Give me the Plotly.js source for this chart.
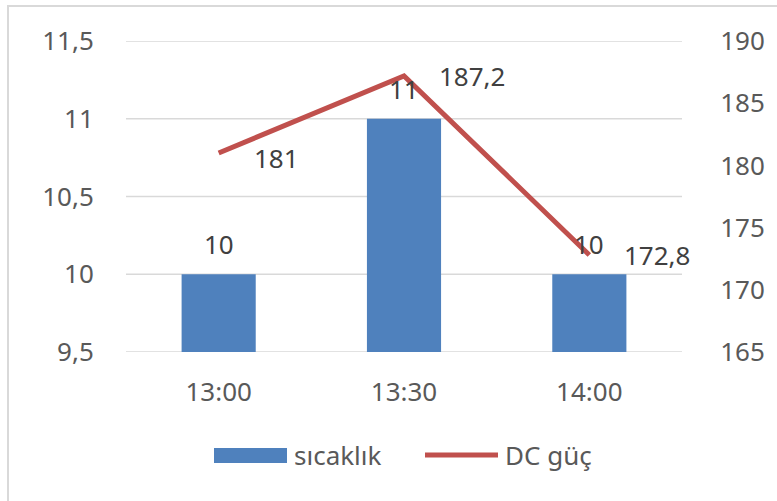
<!DOCTYPE html>
<html>
<head>
<meta charset="utf-8">
<script src="https://cdn.plot.ly/plotly-3.0.1.min.js"></script>
<style>
html,body{margin:0;padding:0;background:#fff;}
#chart{width:777px;height:501px;position:relative;}
#frame{position:absolute;left:7px;top:5px;width:780px;height:510px;border-top:2px solid #D9D9D9;border-left:2px solid #D9D9D9;pointer-events:none;}
</style>
</head>
<body>
<div style="position:relative;width:777px;height:501px;overflow:hidden;">
<div id="chart"></div>
<div id="frame"></div>
</div>
<script>
const categories = ["13:00", "13:30", "14:00"];
const sicaklik = [10, 11, 10];
const dcGuc = [181, 187.2, 172.8];
const leftTicks = [9.5, 10, 10.5, 11, 11.5];
const rightTicks = [165, 170, 175, 180, 185, 190];
const seriesNames = ["sıcaklık", "DC güç"];

const font = "Noto Sans, sans-serif";
const textColor = "#595959";
const labelColor = "#404040";
const barColor = "#4F81BD";
const lineColor = "#C0504D";
const fmt = v => String(v).replace(".", ",");

// plot area in pixels (for converting legend placement)
const L = 126, R = 682, T = 41, B = 352;
const px = x => (x - L) / (R - L);
const py = y => (B - y) / (B - T);

const traces = [
  {
    type: "bar",
    name: seriesNames[0],
    x: categories,
    y: sicaklik,
    marker: {color: barColor},
    hoverinfo: "none",
    showlegend: false
  },
  {
    type: "scatter",
    mode: "lines",
    name: seriesNames[1],
    x: categories,
    y: dcGuc,
    yaxis: "y2",
    line: {color: lineColor, width: 5},
    hoverinfo: "none",
    showlegend: false
  }
];

const annotations = [];
sicaklik.forEach((v, i) => annotations.push({
  x: categories[i], y: v, xref: "x", yref: "y",
  text: fmt(v), showarrow: false,
  xanchor: "center", yanchor: "bottom", yshift: 10,
  font: {size: 26, color: labelColor, family: font}
}));
dcGuc.forEach((v, i) => annotations.push({
  x: categories[i], y: v, xref: "x", yref: "y2",
  text: fmt(v), showarrow: false,
  xanchor: "left", yanchor: "middle",
  xshift: 33, yshift: i === 0 ? -5 : 0,
  font: {size: 26, color: labelColor, family: font}
}));
// custom legend text
annotations.push({
  x: px(292), y: py(455), xref: "paper", yref: "paper",
  text: seriesNames[0], showarrow: false, xanchor: "left", yanchor: "middle",
  font: {size: 26, color: textColor, family: font}
});
annotations.push({
  x: px(503), y: py(455), xref: "paper", yref: "paper",
  text: seriesNames[1], showarrow: false, xanchor: "left", yanchor: "middle",
  font: {size: 26, color: textColor, family: font}
});

const shapes = [
  {type: "rect", xref: "paper", yref: "paper",
   x0: px(214), x1: px(287), y0: py(463), y1: py(448),
   fillcolor: barColor, line: {width: 0}},
  {type: "line", xref: "paper", yref: "paper",
   x0: px(425), x1: px(498), y0: py(455), y1: py(455),
   line: {color: lineColor, width: 5}}
];
// gridlines
leftTicks.forEach(v => shapes.push({
  type: "line", xref: "paper", yref: "y", x0: 0, x1: 1, y0: v, y1: v,
  line: {color: "#D9D9D9", width: 1.5}, layer: "below"
}));

const layout = {
  width: 777,
  height: 501,
  margin: {l: L, r: 777 - R, t: T, b: 501 - B, autoexpand: false},
  paper_bgcolor: "rgba(0,0,0,0)",
  plot_bgcolor: "rgba(0,0,0,0)",
  separators: ", ",
  bargap: 0.6,
  showlegend: false,
  xaxis: {
    type: "category",
    range: [-0.5, categories.length - 0.5],
    tickfont: {size: 26, color: textColor, family: font},
    ticks: "outside",
    ticklen: 17,
    tickcolor: "rgba(0,0,0,0)",
    showline: false,
    showgrid: false,
    zeroline: false,
    automargin: false
  },
  yaxis: {
    range: [9.5, 11.5],
    tickvals: leftTicks,
    ticktext: leftTicks.map(fmt),
    tickfont: {size: 26, color: textColor, family: font},
    ticks: "outside",
    ticklen: 26,
    tickcolor: "rgba(0,0,0,0)",
    showgrid: false,
    zeroline: false,
    showline: false,
    automargin: false
  },
  yaxis2: {
    range: [165, 190],
    tickvals: rightTicks,
    overlaying: "y",
    side: "right",
    tickfont: {size: 26, color: textColor, family: font},
    ticks: "outside",
    ticklen: 32,
    tickcolor: "rgba(0,0,0,0)",
    showgrid: false,
    zeroline: false,
    showline: false,
    automargin: false
  },
  shapes: shapes,
  annotations: annotations
};

Plotly.newPlot("chart", traces, layout, {staticPlot: true, displayModeBar: false});
</script>
</body>
</html>
